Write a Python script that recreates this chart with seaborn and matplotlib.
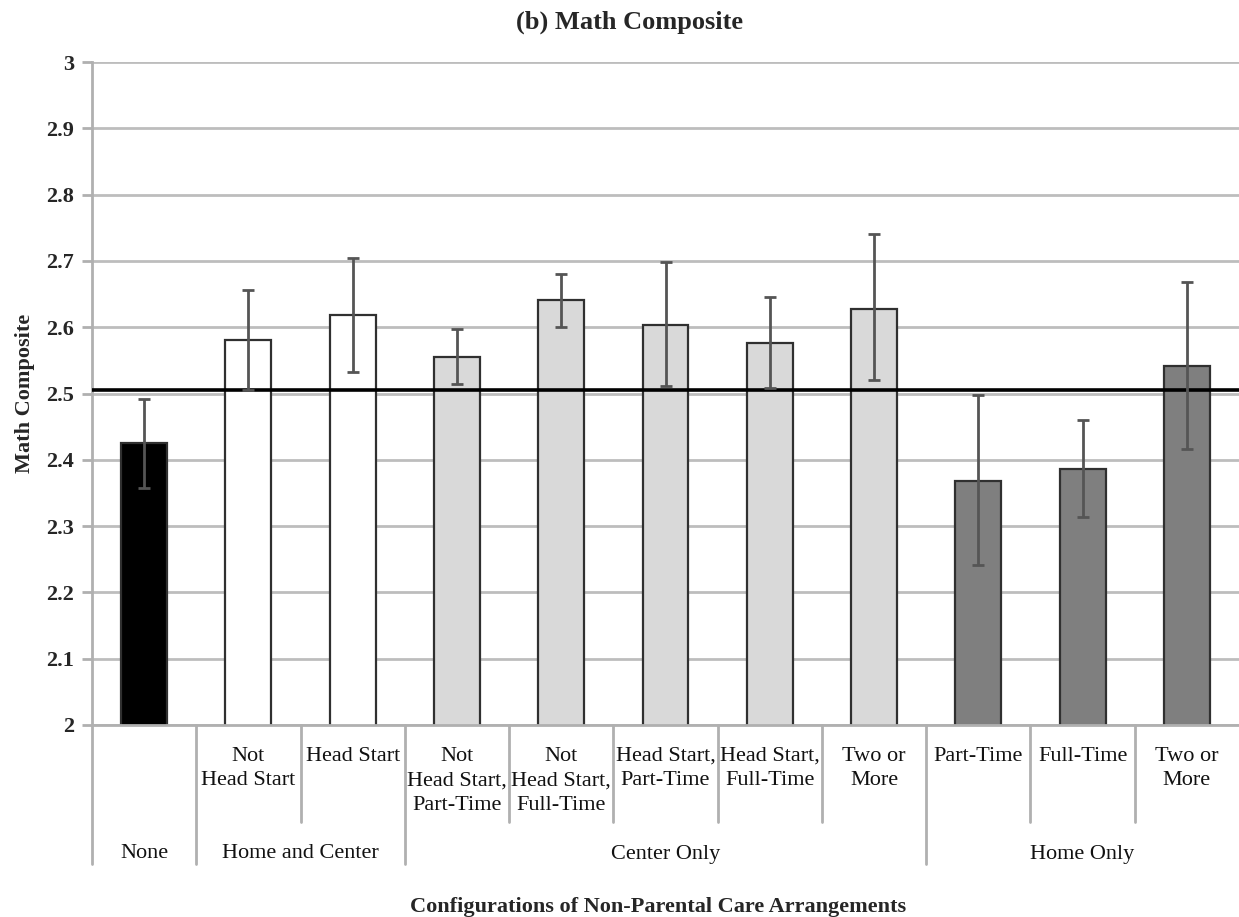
import matplotlib
matplotlib.use("Agg")
import matplotlib.pyplot as plt
import matplotlib.transforms as mtransforms
from matplotlib.lines import Line2D
import numpy as np
import pandas as pd
import seaborn as sns

# Care configurations (sub-label, group) and mean math composite with 95% CI bounds
sub_labels = ["", "Not\nHead Start", "Head Start",
              "Not\nHead Start,\nPart-Time", "Not\nHead Start,\nFull-Time",
              "Head Start,\nPart-Time", "Head Start,\nFull-Time", "Two or\nMore",
              "Part-Time", "Full-Time", "Two or\nMore"]
groups = ["None", "Home and Center", "Center Only", "Home Only"]
group_sizes = [1, 2, 5, 3]
means = [2.425, 2.581, 2.618, 2.555, 2.641, 2.604, 2.576, 2.628, 2.368, 2.386, 2.542]
ci_low = [2.358, 2.505, 2.533, 2.514, 2.600, 2.512, 2.509, 2.520, 2.242, 2.314, 2.417]
ci_high = [2.492, 2.656, 2.704, 2.598, 2.680, 2.698, 2.646, 2.740, 2.498, 2.460, 2.668]
overall_mean = 2.505
y_ticks = [2.0, 2.1, 2.2, 2.3, 2.4, 2.5, 2.6, 2.7, 2.8, 2.9, 3.0]
y_ticklabels = ["2", "2.1", "2.2", "2.3", "2.4", "2.5", "2.6", "2.7", "2.8", "2.9", "3"]

group_colors = {"None": "#000000", "Home and Center": "#ffffff",
                "Center Only": "#d9d9d9", "Home Only": "#7f7f7f"}

sns.set_theme(style="white")
plt.rcParams["font.family"] = ["Liberation Serif", "DejaVu Serif"]

bar_group = [g for g, n in zip(groups, group_sizes) for _ in range(n)]
keys = [f"c{i}" for i in range(len(means))]
df = pd.DataFrame({"key": keys, "mean": means, "group": bar_group})
palette = {k: group_colors[g] for k, g in zip(keys, bar_group)}

W, H = 1239, 917
fig = plt.figure(figsize=(W / 100, H / 100), dpi=100)
ax = fig.add_axes([92 / W, 1 - 725 / H, 1147 / W, (725 - 62) / H])

sns.barplot(data=df, x="key", y="mean", hue="key", palette=palette, order=keys,
            width=0.44, legend=False, edgecolor="#303030", linewidth=1.6, ax=ax,
            zorder=2)

x = np.arange(len(means))
m = np.array(means)
yerr = np.vstack([m - np.array(ci_low), np.array(ci_high) - m])
ax.errorbar(x, m, yerr=yerr, fmt="none", ecolor="#555555", elinewidth=2,
            capsize=4.5, capthick=2, zorder=5)

ax.axhline(overall_mean, color="black", lw=2.6, zorder=4)

ax.set_ylim(2, 3)
ax.set_xlim(-0.5, len(means) - 0.5)
ax.set_yticks(y_ticks)
ax.set_yticklabels(y_ticklabels, fontsize=16, fontweight="bold")
ax.yaxis.grid(True, color="#bdbdbd", lw=2, zorder=0)
ax.set_axisbelow(True)
ax.set_xticks([])
ax.set_xlabel("")
ax.set_ylabel("")
ax.tick_params(axis="y", which="both", left=True, length=7, width=2,
               color="#b0b0b0", pad=6)
for side in ["top", "right"]:
    ax.spines[side].set_visible(False)
for side in ["left", "bottom"]:
    ax.spines[side].set_color("#b0b0b0")
    ax.spines[side].set_linewidth(2)

# Hierarchical category axis below the plot
tr = mtransforms.blended_transform_factory(ax.transData, fig.transFigure)
def fy(py):
    return 1 - py / H

sep_color = "#b0b0b0"
bounds = np.cumsum([0] + group_sizes) - 0.5
group_edges = set(np.round(bounds[:-1], 2))
for b in np.arange(-0.5, len(means) - 0.5, 1.0):
    end = 864 if round(b, 2) in group_edges else 822
    ax.add_line(Line2D([b, b], [fy(725), fy(end)], transform=tr, color=sep_color,
                       lw=2, clip_on=False))

for i, lab in enumerate(sub_labels):
    if lab:
        ax.text(i, fy(747), lab, transform=tr, ha="center", va="top",
                fontsize=16, linespacing=1.38, color="#111111")

for g, lo, hi in zip(groups, bounds[:-1], bounds[1:]):
    ax.text((lo + hi) / 2, fy(854), g, transform=tr, ha="center", va="center",
            fontsize=16, color="#111111")

fig.text(630 / W, fy(22), "(b) Math Composite", ha="center", va="center",
         fontsize=19, fontweight="bold")
fig.text(658 / W, fy(907), "Configurations of Non-Parental Care Arrangements",
         ha="center", va="center", fontsize=16, fontweight="bold")
fig.text(25 / W, fy(393), "Math Composite", ha="center", va="center",
         rotation=90, fontsize=16, fontweight="bold")

fig.savefig("out.png", dpi=100)
